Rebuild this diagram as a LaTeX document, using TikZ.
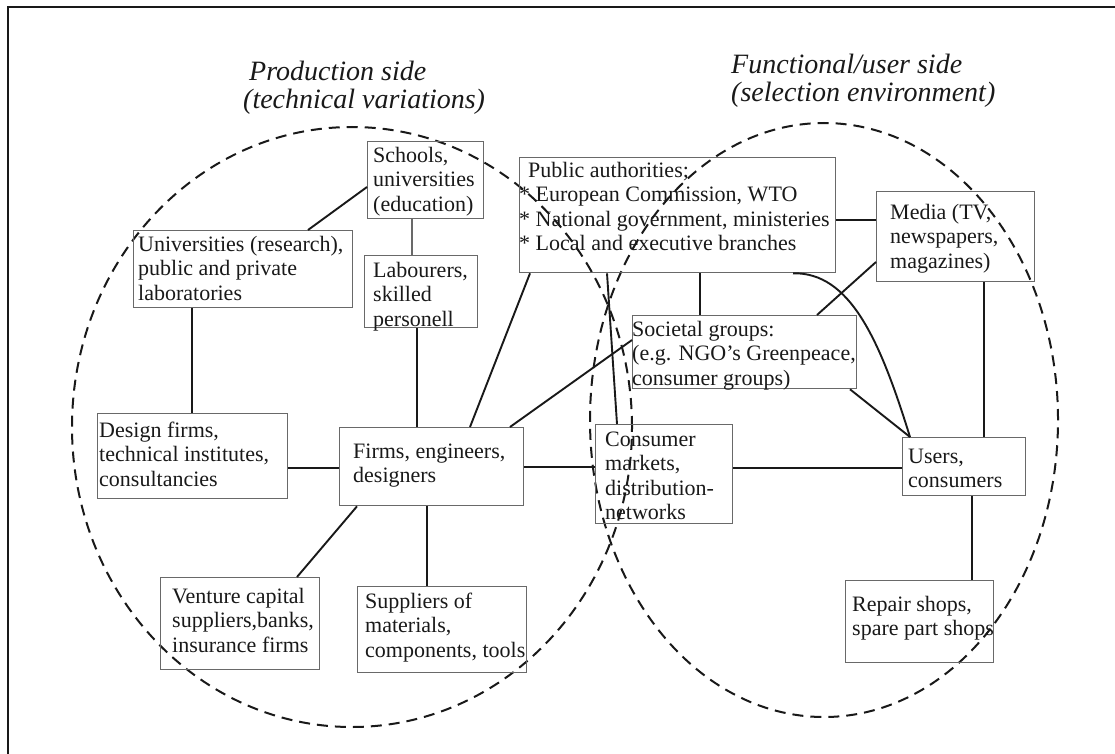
\documentclass[tikz,border=0pt]{standalone}
\usepackage{fontspec}
\setmainfont{Liberation Serif}
\usetikzlibrary{calc}
\definecolor{ink}{RGB}{25,25,25}
\definecolor{boxgrey}{RGB}{105,105,105}
% struts fixing the height of the first text line
\newcommand\tstr{\rule{0pt}{20pt}}
\newcommand\hstr{\rule{0pt}{25pt}}
\begin{document}
\begin{tikzpicture}[x=1pt,y=-1pt,
  box/.style={draw=boxgrey, line width=1.3pt, inner sep=0pt, anchor=north west},
  txt/.style={anchor=north west, inner sep=0pt, align=left, text=ink,
              font=\fontsize{22}{24.5}\selectfont},
  conn/.style={draw=ink, line width=1.9pt},
  thinconn/.style={draw=boxgrey, line width=1.2pt},
  ring/.style={draw=ink, line width=2pt, dash pattern=on 11pt off 7pt},
  heading/.style={anchor=north west, inner sep=0pt, align=left, text=ink,
                  font=\fontsize{28}{28.5}\selectfont\itshape}]
\useasboundingbox (0,0) rectangle (1115,754);

% frame
\draw[ink, line width=2pt] (8,754) -- (8,7) -- (1115,7);

% headings
\node[heading] (ptitle) at (243,55) {\hstr\hspace*{6pt}Production side\\(technical variations)};
\node[heading] (ftitle) at (731,48) {\hstr Functional/user side\\(selection environment)};

% the two dashed regions
\draw[ring] (352,427) ellipse [x radius=280pt, y radius=300pt];
\draw[ring] (824,420) ellipse [x radius=234pt, y radius=297pt];

% production side
\node[box, minimum width=116pt, minimum height=77pt,
  label={[txt, xshift=6pt, yshift=-1pt]north west:{\tstr Schools,\\universities\\(education)}}]
  (sch) at (367,141) {};
\node[box, minimum width=113pt, minimum height=72pt,
  label={[txt, xshift=9pt, yshift=-2pt]north west:{\tstr Labourers,\\skilled\\personell}}]
  (lab) at (364,255) {};
\node[box, minimum width=219pt, minimum height=77pt,
  label={[txt, xshift=5pt, yshift=-1pt]north west:{\tstr Universities (research),\\public and private\\laboratories}}]
  (uni) at (133,230) {};
\node[box, minimum width=190pt, minimum height=85pt,
  label={[txt, xshift=2pt, yshift=-4pt]north west:{\tstr Design firms,\\technical institutes,\\consultancies}}]
  (des) at (97,413) {};
\node[box, minimum width=184pt, minimum height=78pt,
  label={[txt, xshift=14pt, yshift=-11pt]north west:{\tstr Firms, engineers,\\designers}}]
  (firm) at (339,427) {};
\node[box, minimum width=159pt, minimum height=92pt,
  label={[txt, xshift=12pt, yshift=-6pt]north west:{\tstr Venture capital\\suppliers,banks,\\insurance firms}}]
  (ven) at (160,577) {};
\node[box, minimum width=169pt, minimum height=86pt,
  label={[txt, xshift=8pt, yshift=-2pt]north west:{\tstr Suppliers of\\materials,\\components, tools}}]
  (sup) at (357,586) {};

% shared and user side
\node[box, minimum width=316pt, minimum height=115pt,
  label={[txt, xshift=0pt, yshift=0pt]north west:{\tstr\hspace*{9pt}Public authorities;\\{*} European Commission, WTO\\{*} National government, ministeries\\{*} Local and executive branches}}]
  (pa) at (519,157) {};
\node[box, minimum width=158pt, minimum height=90pt,
  label={[txt, xshift=14pt, yshift=-8pt]north west:{\tstr Media (TV,\\newspapers,\\magazines)}}]
  (med) at (876,191) {};
\node[box, minimum width=224pt, minimum height=73pt,
  label={[txt, xshift=0pt, yshift=-1pt]north west:{\tstr Societal groups:\\(e.g. NGO’s Greenpeace,\\consumer groups)}}]
  (soc) at (632,315) {};
\node[box, minimum width=137pt, minimum height=99pt,
  label={[txt, xshift=10pt, yshift=-2pt]north west:{\tstr Consumer\\markets,\\distribution-\\networks}}]
  (con) at (595,424) {};
\node[box, minimum width=123pt, minimum height=58pt,
  label={[txt, xshift=6pt, yshift=-6pt]north west:{\tstr Users,\\consumers}}]
  (usr) at (902,437) {};
\node[box, minimum width=148pt, minimum height=82pt,
  label={[txt, xshift=7pt, yshift=-11pt]north west:{\tstr Repair shops,\\spare part shops}}]
  (rep) at (845,580) {};

% connections
\draw[conn] (uni.north -| 308,0) -- (sch.west |- 0,187);
\draw[thinconn] (sch.south -| 412,0) -- (lab.north -| 412,0);
\draw[conn] (uni.south -| 192,0) -- (des.north -| 192,0);
\draw[conn] (lab.south -| 417,0) -- (firm.north -| 417,0);
\draw[conn] (des.east |- 0,468) -- (firm.west |- 0,468);
\draw[conn] (firm.south -| 357,0) -- (ven.north -| 297,0);
\draw[conn] (firm.south -| 427,0) -- (sup.north -| 427,0);
\draw[conn] (firm.north -| 470,0) -- (pa.south -| 530,0);
\draw[conn] (firm.north -| 510,0) -- (soc.west |- 0,340);
\draw[conn] (firm.east |- 0,467) -- (con.west |- 0,467);
\draw[conn] (pa.south -| 607,0) -- (con.north -| 617,0);
\draw[conn] (pa.south -| 700,0) -- (soc.north -| 700,0);
\draw[conn] (pa.east |- 0,220) -- (med.west |- 0,220);
\draw[conn] (med.west |- 0,262) -- (soc.north -| 817,0);
\draw[conn] (pa.south -| 793,0) .. controls (850,272) and (880,340) .. (usr.north -| 910,0);
\draw[conn] (soc.south -| 850,0) -- (usr.north -| 910,0);
\draw[conn] (con.east |- 0,468) -- (usr.west |- 0,468);
\draw[conn] (med.south -| 984,0) -- (usr.north -| 984,0);
\draw[conn] (usr.south -| 972,0) -- (rep.north -| 972,0);
\end{tikzpicture}
\end{document}
